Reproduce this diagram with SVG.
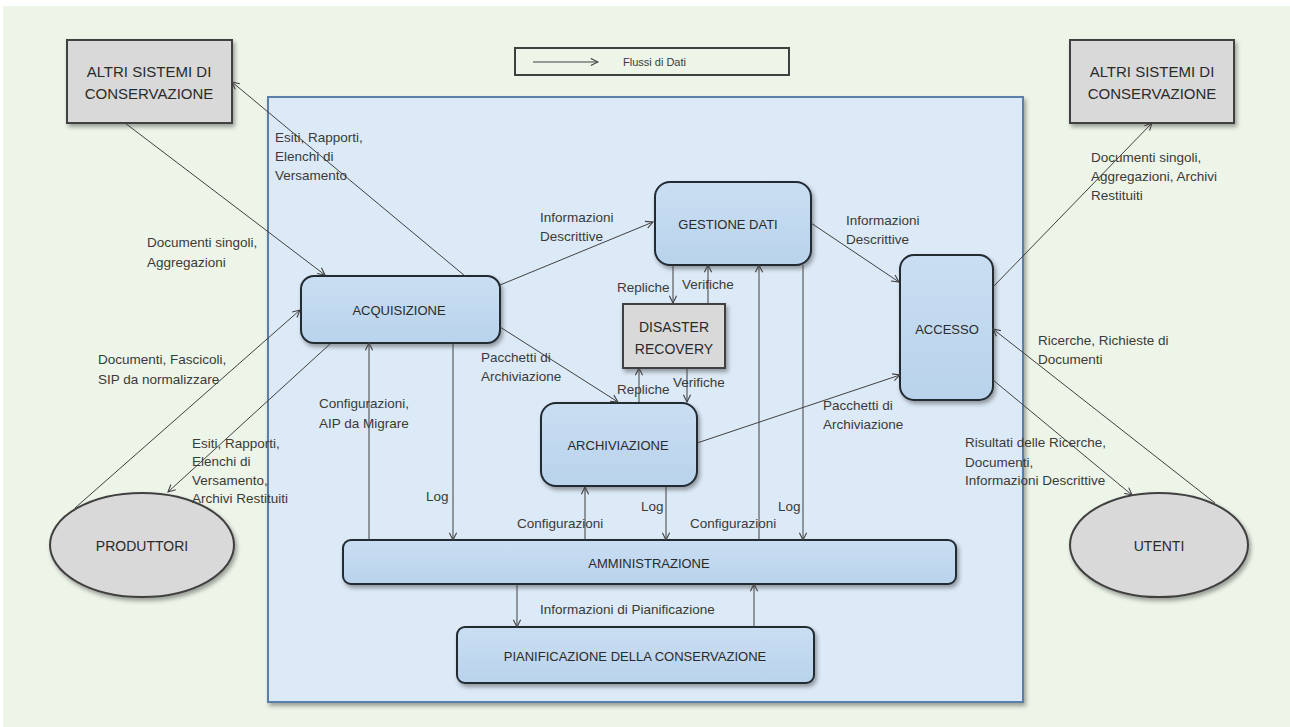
<svg xmlns="http://www.w3.org/2000/svg" width="1290" height="727" viewBox="0 0 1290 727">
<defs>
<filter id="sh" x="-10%" y="-10%" width="130%" height="130%">
<feDropShadow dx="2" dy="3" stdDeviation="2" flood-color="#000" flood-opacity="0.35"/>
</filter>
<linearGradient id="bl" x1="0" y1="0" x2="0" y2="1">
<stop offset="0" stop-color="#c9def2"/>
<stop offset="1" stop-color="#b9d3ec"/>
</linearGradient>
<marker id="ar" viewBox="0 0 10 10" refX="9" refY="5" markerWidth="9" markerHeight="9" markerUnits="userSpaceOnUse" orient="auto">
<path d="M1,1 L9,5 L1,9" fill="none" stroke="#404040" stroke-width="1.2"/>
</marker>
</defs>
<style>
.lab{font-family:"Liberation Sans",Arial,sans-serif;font-size:13.5px;fill:#3a3a3a}
.box{font-family:"Liberation Sans",Arial,sans-serif;font-size:13px;fill:#2a2a2a;text-anchor:middle}
.big{font-family:"Liberation Sans",Arial,sans-serif;font-size:15px;fill:#2a2a2a;text-anchor:middle}
.node{fill:url(#bl);stroke:#222a33;stroke-width:2;filter:url(#sh)}
.gray{fill:#d9d9d9;stroke:#404040;stroke-width:2;filter:url(#sh)}
.c{stroke:#404040;stroke-width:1;fill:none;marker-end:url(#ar)}
</style>
<rect x="0" y="0" width="1290" height="727" fill="#ffffff"/>
<rect x="3" y="6" width="1287" height="721" fill="#edf4e8"/>

<g id="legend">
<rect x="515" y="48" width="274" height="27" fill="none" stroke="#404040" stroke-width="2"/>
<line x1="533" y1="62" x2="598" y2="62" class="c"/>
<text x="623" y="66" style="font-family:'Liberation Sans',Arial,sans-serif;font-size:11px;fill:#3a3a3a">Flussi di Dati</text>
</g>

<g id="frame">
<rect x="268" y="97" width="755" height="605" fill="#dce9f6" stroke="#5a80aa" stroke-width="2" filter="url(#sh)"/>
</g>

<g id="altri-sx">
<rect x="67" y="40" width="165" height="83" class="gray"/>
<text class="big" x="149" y="77">ALTRI SISTEMI DI</text>
<text class="big" x="149" y="99">CONSERVAZIONE</text>
</g>

<g id="altri-dx">
<rect x="1070" y="40" width="164" height="83" class="gray"/>
<text class="big" x="1152" y="77">ALTRI SISTEMI DI</text>
<text class="big" x="1152" y="99">CONSERVAZIONE</text>
</g>

<g id="acquisizione">
<rect x="301" y="276" width="199" height="67" rx="13" class="node"/>
<text class="box" x="399" y="315">ACQUISIZIONE</text>
</g>

<g id="gestione-dati">
<rect x="655" y="182" width="156" height="83" rx="15" class="node"/>
<text class="box" x="728" y="229">GESTIONE DATI</text>
</g>

<g id="disaster-recovery">
<rect x="623" y="304" width="102" height="64" class="gray"/>
<text class="box" style="font-size:14px" x="674" y="332">DISASTER</text>
<text class="box" style="font-size:14px" x="674" y="354">RECOVERY</text>
</g>

<g id="archiviazione">
<rect x="541" y="403" width="156" height="83" rx="15" class="node"/>
<text class="box" x="618" y="450">ARCHIVIAZIONE</text>
</g>

<g id="accesso">
<rect x="900" y="255" width="93" height="145" rx="14" class="node"/>
<text class="box" x="947" y="334">ACCESSO</text>
</g>

<g id="amministrazione">
<rect x="343" y="540" width="613" height="44" rx="8" class="node"/>
<text class="box" x="649" y="568">AMMINISTRAZIONE</text>
</g>

<g id="pianificazione">
<rect x="457" y="627" width="357" height="56" rx="8" class="node"/>
<text class="box" x="635" y="661">PIANIFICAZIONE DELLA CONSERVAZIONE</text>
</g>

<g id="produttori">
<ellipse cx="142" cy="545" rx="92" ry="52" class="gray"/>
<text class="big" style="font-size:14px" x="142" y="551">PRODUTTORI</text>
</g>

<g id="utenti">
<ellipse cx="1159" cy="545" rx="89" ry="52" class="gray"/>
<text class="big" style="font-size:14px" x="1159" y="551">UTENTI</text>
</g>

<g id="connectors">
<line class="c" x1="125" y1="123" x2="325" y2="275"/>
<line class="c" x1="465" y1="276" x2="232" y2="82"/>
<line class="c" x1="75" y1="508" x2="300" y2="310"/>
<line class="c" x1="330" y1="344" x2="168" y2="492"/>
<line class="c" x1="500" y1="285" x2="653" y2="222"/>
<line class="c" x1="500" y1="327" x2="618" y2="402"/>
<line class="c" x1="673" y1="265" x2="673" y2="303"/>
<line class="c" x1="708" y1="304" x2="708" y2="265"/>
<line class="c" x1="639" y1="402" x2="639" y2="368"/>
<line class="c" x1="687" y1="368" x2="687" y2="402"/>
<line class="c" x1="811" y1="223" x2="899" y2="282"/>
<line class="c" x1="993" y1="287" x2="1152" y2="123"/>
<line class="c" x1="697" y1="443" x2="900" y2="375"/>
<line class="c" x1="1215" y1="503" x2="993" y2="329"/>
<line class="c" x1="993" y1="380" x2="1132" y2="495"/>
<line class="c" x1="453" y1="343" x2="453" y2="540"/>
<line class="c" x1="369" y1="540" x2="369" y2="343"/>
<line class="c" x1="585" y1="540" x2="585" y2="487"/>
<line class="c" x1="666" y1="487" x2="666" y2="540"/>
<line class="c" x1="759" y1="540" x2="759" y2="265"/>
<line class="c" x1="803" y1="265" x2="803" y2="540"/>
<line class="c" x1="517" y1="584" x2="517" y2="627"/>
<line class="c" x1="754" y1="627" x2="754" y2="584"/>
</g>

<g id="labels">
<text class="lab" x="275" y="142">Esiti, Rapporti,</text>
<text class="lab" x="275" y="161">Elenchi di</text>
<text class="lab" x="275" y="180">Versamento</text>
<text class="lab" x="147" y="247">Documenti singoli,</text>
<text class="lab" x="147" y="267">Aggregazioni</text>
<text class="lab" x="540" y="222">Informazioni</text>
<text class="lab" x="540" y="241">Descrittive</text>
<text class="lab" x="617" y="292">Repliche</text>
<text class="lab" x="682" y="289">Verifiche</text>
<text class="lab" x="481" y="362">Pacchetti di</text>
<text class="lab" x="481" y="381">Archiviazione</text>
<text class="lab" x="617" y="394">Repliche</text>
<text class="lab" x="673" y="387">Verifiche</text>
<text class="lab" x="319" y="408">Configurazioni,</text>
<text class="lab" x="319" y="428">AIP da Migrare</text>
<text class="lab" x="98" y="364">Documenti, Fascicoli,</text>
<text class="lab" x="98" y="384">SIP da normalizzare</text>
<text class="lab" x="192" y="448">Esiti, Rapporti,</text>
<text class="lab" x="192" y="466">Elenchi di</text>
<text class="lab" x="192" y="485">Versamento,</text>
<text class="lab" x="192" y="503">Archivi Restituiti</text>
<text class="lab" x="426" y="501">Log</text>
<text class="lab" x="517" y="528">Configurazioni</text>
<text class="lab" x="641" y="511">Log</text>
<text class="lab" x="690" y="528">Configurazioni</text>
<text class="lab" x="778" y="511">Log</text>
<text class="lab" x="823" y="410">Pacchetti di</text>
<text class="lab" x="823" y="429">Archiviazione</text>
<text class="lab" x="846" y="225">Informazioni</text>
<text class="lab" x="846" y="244">Descrittive</text>
<text class="lab" x="1091" y="162">Documenti singoli,</text>
<text class="lab" x="1091" y="181">Aggregazioni, Archivi</text>
<text class="lab" x="1091" y="200">Restituiti</text>
<text class="lab" x="1038" y="345">Ricerche, Richieste di</text>
<text class="lab" x="1038" y="364">Documenti</text>
<text class="lab" x="965" y="447">Risultati delle Ricerche,</text>
<text class="lab" x="965" y="467">Documenti,</text>
<text class="lab" x="965" y="485">Informazioni Descrittive</text>
<text class="lab" x="540" y="614">Informazioni di Pianificazione</text>
</g>
</svg>
